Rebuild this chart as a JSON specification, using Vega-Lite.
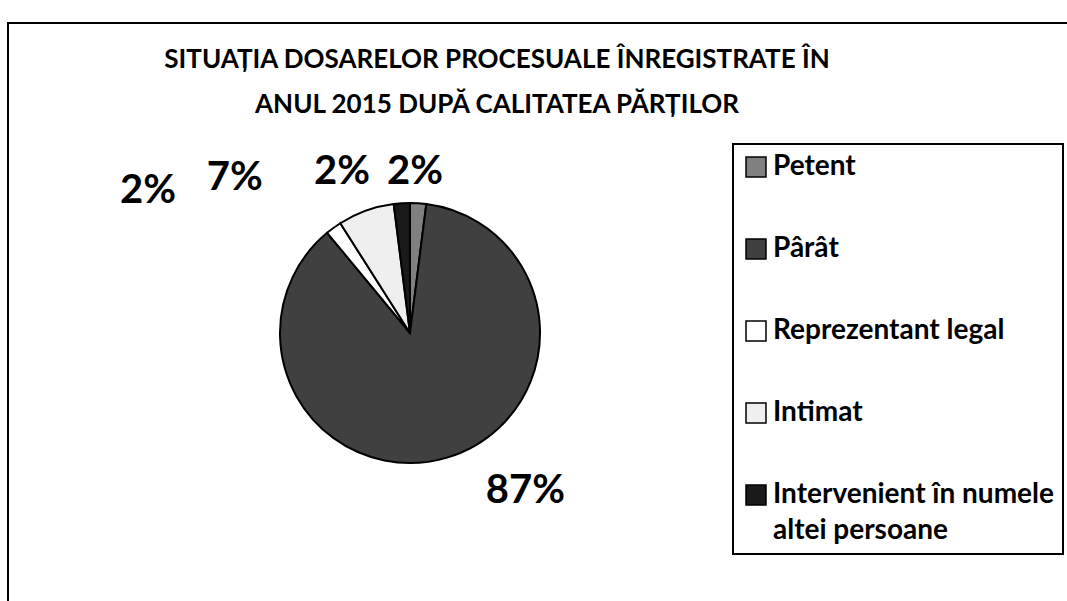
{
  "$schema": "https://vega.github.io/schema/vega-lite/v6.json",
  "width": 1062,
  "height": 581,
  "autosize": {"type": "none"},
  "padding": {"left": 8, "top": 23, "right": -3, "bottom": -3},
  "background": "white",
  "view": {"stroke": "black", "strokeWidth": 2, "fill": "white"},
  "config": {
    "view": {"stroke": "black", "strokeWidth": 2},
    "font": "Lato",
    "legend": {"strokeColor": "black", "strokeWidth": 2}
  },
  "title": {
    "text": ["SITUAȚIA DOSARELOR PROCESUALE ÎNREGISTRATE ÎN", "ANUL 2015 DUPĂ CALITATEA PĂRȚILOR"],
    "anchor": "middle",
    "frame": "group",
    "offset": -95,
    "dx": -42,
    "fontSize": 26,
    "fontWeight": "bold",
    "font": "Lato",
    "lineHeight": 45,
    "color": "black"
  },
  "data": {
    "values": [
      {"categorie": "Petent", "procent": 2, "ordine": 1, "eticheta": "2%"},
      {"categorie": "Pârât", "procent": 87, "ordine": 2, "eticheta": "87%"},
      {"categorie": "Reprezentant legal", "procent": 2, "ordine": 3, "eticheta": "2%"},
      {"categorie": "Intimat", "procent": 7, "ordine": 4, "eticheta": "7%"},
      {"categorie": "Intervenient în numele altei persoane", "procent": 2, "ordine": 5, "eticheta": "2%"}
    ]
  },
  "encoding": {
    "theta": {"field": "procent", "type": "quantitative", "stack": true},
    "order": {"field": "ordine", "type": "quantitative"}
  },
  "layer": [
    {
      "mark": {"type": "arc", "outerRadius": 130, "x": 402, "y": 310, "stroke": "black", "strokeWidth": 2},
      "encoding": {
        "color": {
          "field": "categorie",
          "type": "nominal",
          "scale": {
            "domain": ["Petent", "Pârât", "Reprezentant legal", "Intimat", "Intervenient în numele altei persoane"],
            "range": ["#808080", "#404040", "#ffffff", "#efefef", "#1a1a1a"]
          },
          "legend": {
            "orient": "none",
            "legendX": 725,
            "legendY": 121,
            "title": null,
            "padding": 9,
            "symbolType": "square",
            "symbolSize": 400,
            "symbolStrokeColor": "black",
            "symbolStrokeWidth": 1.5,
            "symbolOpacity": 1,
            "labelFontSize": 28,
            "labelFontWeight": "bold",
            "labelFont": "Lato",
            "labelColor": "black",
            "labelOffset": 3,
            "labelLimit": 500,
            "rowPadding": 54,
            "labelExpr": "datum.label == 'Intervenient în numele altei persoane' ? ['Intervenient în numele', 'altei persoane'] : datum.label",
            "encode": {"labels": {"update": {"lineHeight": {"value": 36}}}}
          }
        }
      }
    },
    {
      "mark": {"type": "text", "x": 402, "y": 310, "radius": 170, "dx": 68, "dy": -5, "fontSize": 40, "fontWeight": "bold", "font": "Lato", "fill": "black"},
      "encoding": {"text": {"condition": {"test": "datum.categorie === 'Pârât'", "field": "eticheta"}, "value": ""}}
    },
    {
      "mark": {"type": "text", "x": 402, "y": 310, "radius": 160, "dx": -5, "dy": -1, "fontSize": 40, "fontWeight": "bold", "font": "Lato", "fill": "black"},
      "encoding": {"text": {"condition": {"test": "datum.categorie === 'Petent'", "field": "eticheta"}, "value": ""}}
    },
    {
      "mark": {"type": "text", "x": 402, "y": 310, "radius": 160, "dx": -168, "dy": -13, "fontSize": 40, "fontWeight": "bold", "font": "Lato", "fill": "black"},
      "encoding": {"text": {"condition": {"test": "datum.categorie === 'Reprezentant legal'", "field": "eticheta"}, "value": ""}}
    },
    {
      "mark": {"type": "text", "x": 402, "y": 310, "radius": 160, "dx": -121, "dy": -4, "fontSize": 40, "fontWeight": "bold", "font": "Lato", "fill": "black"},
      "encoding": {"text": {"condition": {"test": "datum.categorie === 'Intimat'", "field": "eticheta"}, "value": ""}}
    },
    {
      "mark": {"type": "text", "x": 402, "y": 310, "radius": 160, "dx": -58, "dy": -1, "fontSize": 40, "fontWeight": "bold", "font": "Lato", "fill": "black"},
      "encoding": {"text": {"condition": {"test": "datum.categorie === 'Intervenient în numele altei persoane'", "field": "eticheta"}, "value": ""}}
    }
  ]
}
